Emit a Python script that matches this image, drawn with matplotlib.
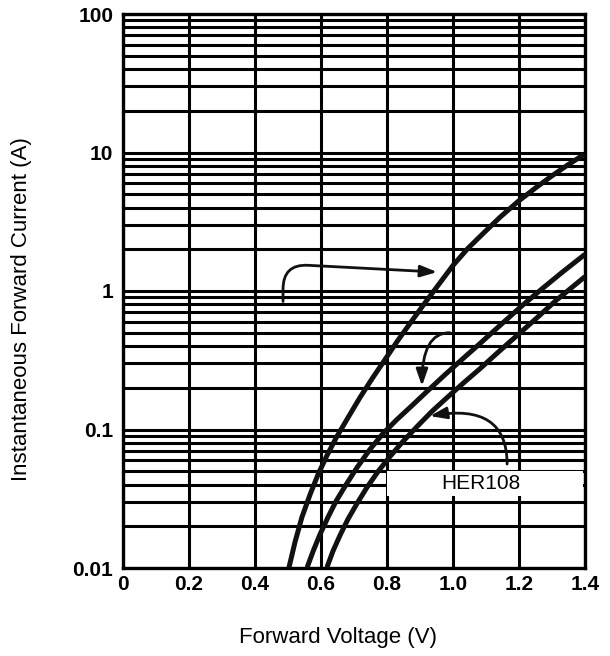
import matplotlib
matplotlib.use("Agg")
import matplotlib.pyplot as plt
from matplotlib.patches import Rectangle
from matplotlib.ticker import LogLocator, NullFormatter

# ---- data ----
v1 = [0.503, 0.521, 0.542, 0.567, 0.591, 0.618, 0.648, 0.682, 0.718, 0.755, 0.794, 0.833,
      0.876, 0.918, 0.961, 1.000, 1.045, 1.094, 1.142, 1.197, 1.248, 1.297, 1.345, 1.397]
i1 = [0.0101, 0.0153, 0.0232, 0.0340, 0.0473, 0.0649, 0.0889, 0.122, 0.170, 0.233, 0.320, 0.440,
      0.612, 0.839, 1.15, 1.53, 2.03, 2.64, 3.40, 4.43, 5.50, 6.71, 8.05, 9.68]

v2 = [0.558, 0.576, 0.597, 0.621, 0.646, 0.676, 0.710, 0.748, 0.788, 0.830, 0.876, 0.924,
      0.976, 1.027, 1.082, 1.142, 1.203, 1.264, 1.330, 1.400]
i2 = [0.0101, 0.0132, 0.0175, 0.0232, 0.0305, 0.0400, 0.0535, 0.0717, 0.0936, 0.118, 0.149, 0.191,
      0.249, 0.320, 0.418, 0.563, 0.760, 1.01, 1.36, 1.84]

v3 = [0.618, 0.636, 0.658, 0.682, 0.709, 0.739, 0.773, 0.809, 0.848, 0.891, 0.936, 0.982,
      1.030, 1.082, 1.136, 1.194, 1.252, 1.312, 1.400]
i3 = [0.0101, 0.0132, 0.0173, 0.0226, 0.0292, 0.0381, 0.0498, 0.0638, 0.0818, 0.105, 0.135, 0.170,
      0.215, 0.275, 0.360, 0.477, 0.633, 0.854, 1.27]

x_ticks = [0, 0.2, 0.4, 0.6, 0.8, 1.0, 1.2, 1.4]
x_tick_labels = ["0", "0.2", "0.4", "0.6", "0.8", "1.0", "1.2", "1.4"]
y_ticks = [0.01, 0.1, 1, 10, 100]
y_tick_labels = ["0.01", "0.1", "1", "10", "100"]

label_text = "HER108"
label_pos = (1.085, 0.0405)
label_box = (0.80, 0.033, 0.595, 0.0505)  # x0, y0, width, y1

# arrows: (start, tip)
arrow1 = ((0.485, 0.84), (0.952, 1.37))
arrow2 = ((0.990, 0.50), (0.906, 0.206))
arrow3 = ((1.164, 0.0563), (0.930, 0.125))

# ---- figure ----
fig = plt.figure(figsize=(6.10, 6.56), dpi=100)
ax = fig.add_axes([123/610, 1-568/656, (585-123)/610, (568-14)/656])

ax.set_yscale("log")
ax.set_xlim(0, 1.4)
ax.set_ylim(0.01, 100)

ax.set_xticks(x_ticks)
ax.set_xticklabels(x_tick_labels)
ax.set_yticks(y_ticks)
ax.set_yticklabels(y_tick_labels)
ax.yaxis.set_minor_locator(LogLocator(base=10, subs=range(2, 10)))
ax.yaxis.set_minor_formatter(NullFormatter())

ax.tick_params(which="both", length=0)
ax.tick_params(axis="y", pad=7)
ax.tick_params(axis="x", pad=5)
for lab in ax.get_xticklabels() + ax.get_yticklabels():
    lab.set_fontfamily("Liberation Sans")
    lab.set_fontweight("bold")
    lab.set_fontsize(15)

ax.set_axisbelow(True)
ax.grid(True, axis="x", which="major", color="black", lw=2.2)
ax.grid(True, axis="y", which="both", color="black", lw=2.2)
for s in ax.spines.values():
    s.set_linewidth(2.4)
    s.set_color("black")

# white label box
x0, y0, w, y1 = label_box
ax.add_patch(Rectangle((x0, y0), w, y1 - y0, facecolor="white", edgecolor="none", zorder=1))

# curves
for v, i in ((v1, i1), (v2, i2), (v3, i3)):
    ax.plot(v, i, color="#111111", lw=3.6, solid_capstyle="butt", solid_joinstyle="round",
            zorder=3, clip_on=True)

ax.text(label_pos[0], label_pos[1], label_text, ha="center", va="center",
        fontsize=15, family="Liberation Sans", zorder=4)

arrowprops = dict(arrowstyle="-|>,head_length=1.0,head_width=0.35", color="#111111", lw=2.0,
                  shrinkA=0, shrinkB=0)
ax.annotate("", xy=arrow1[1], xytext=arrow1[0],
            arrowprops=dict(arrowprops, connectionstyle="angle,angleA=90,angleB=-3,rad=25"), zorder=5)
ax.annotate("", xy=arrow2[1], xytext=arrow2[0],
            arrowprops=dict(arrowprops, connectionstyle="angle3,angleA=180,angleB=90"), zorder=5)
ax.annotate("", xy=arrow3[1], xytext=arrow3[0],
            arrowprops=dict(arrowprops, connectionstyle="angle3,angleA=90,angleB=10"), zorder=5)

fig.text(338/610, 1-637/656, "Forward Voltage (V)", ha="center", va="center",
         fontsize=16, family="Liberation Sans")
fig.text(22/610, 1-309/656, "Instantaneous Forward Current (A)", ha="center", va="center",
         rotation=90, fontsize=16, family="Liberation Sans")

fig.savefig("out.png", dpi=100, facecolor="white")
